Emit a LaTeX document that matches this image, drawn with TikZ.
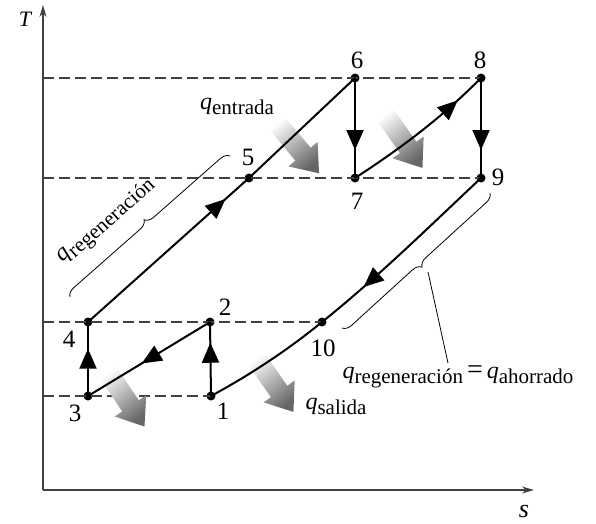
\documentclass[tikz,border=0pt]{standalone}
\usepackage{fontspec}
\setmainfont{Liberation Serif}
\usetikzlibrary{arrows.meta,decorations.markings,decorations.pathreplacing}
\newcommand\qlabel[1]{{\fontsize{24}{24}\selectfont\itshape q}\raisebox{-5pt}{\fontsize{21}{21}\selectfont #1}}
\begin{document}
\begin{tikzpicture}[x=1pt,y=-1pt,
  axis/.style={line width=1.3pt,draw=black!75,-{Stealth[length=12pt,width=7pt]}},
  guide/.style={line width=1.1pt, dash pattern=on 11pt off 5pt, draw=black!75},
  cyc/.style={line width=2pt},
  flowmark/.style={decoration={markings, mark=at position #1 with {\arrow{Triangle[length=20pt,width=17pt]}}}, postaction={decorate}},
  dot/.style={circle, fill=black, inner sep=0pt, minimum size=9pt},
  num/.style={font=\fontsize{25}{25}\selectfont, inner sep=0pt},
  lab/.style={inner sep=0pt},
  bracestyle/.style={decorate, decoration={brace, amplitude=9pt}, line width=0.8pt},
  fat/.style={top color=white, bottom color=black!60, shading angle=38},
  fatarrow/.pic={\shade[fat] (0,-10) -- (42,-10) -- (42,-19) -- (67,0) -- (42,19) -- (42,10) -- (0,10) -- cycle;}
]
\useasboundingbox (0,0) rectangle (596,523);
% axes
\coordinate (O) at (43,490);
\coordinate (Ttop) at (43,5);
\coordinate (Send) at (534,490);
\draw[axis] (O) -- (Ttop);
\draw[axis] (O) -- (Send);
\node[lab, font=\fontsize{22}{22}\selectfont\itshape] (Tl) at (25,19) {T};
\node[lab, font=\fontsize{26}{26}\selectfont\itshape] (sl) at (524,511) {s};
% state points
\node[dot] (p1) at (211,396) {};
\node[dot] (p2) at (210,322) {};
\node[dot] (p3) at (88,396) {};
\node[dot] (p4) at (88,322) {};
\node[dot] (p5) at (249,178) {};
\node[dot] (p6) at (355,78) {};
\node[dot] (p7) at (355,178) {};
\node[dot] (p8) at (481,78) {};
\node[dot] (p9) at (481,178) {};
\node[dot] (p10) at (322,322) {};
% axis ends of dashed lines
\coordinate (a6) at (43,78);
\coordinate (a7) at (43,178);
\coordinate (a4) at (43,322);
\coordinate (a3) at (43,396);
\draw[guide] (a6) -- (p6.center) -- (p8.center);
\draw[guide] (a7) -- (p5.center) -- (p7.center) -- (p9.center);
\draw[guide] (a4) -- (p4.center) -- (p2.center) -- (p10.center);
\draw[guide] (a3) -- (p3.center) -- (p1.center);
% shaded heat arrows
\pic[rotate=-50] at (276,122) {fatarrow};
\pic[rotate=-55] at (384,113) {fatarrow};
\pic[rotate=-56] at (107,371) {fatarrow};
\pic[rotate=-55] at (255,357) {fatarrow};
% cycle
\draw[cyc, flowmark=0.72] (p1.center) -- (p2.center);
\draw[cyc, flowmark=0.56] (p2.center) -- (p3.center);
\draw[cyc, flowmark=0.64] (p3.center) -- (p4.center);
\draw[cyc, flowmark=0.51] (p4.center) -- (p5.center) -- (p6.center);
\draw[cyc, flowmark=0.72] (p6.center) -- (p7.center);
\draw[cyc, flowmark=0.8] (p7.center) .. controls (420,136) and (455,104) .. (p8.center);
\draw[cyc, flowmark=0.72] (p8.center) -- (p9.center);
\draw[cyc, flowmark=0.46] (p9.center) .. controls (431,225) and (377,278) .. (p10.center)
   .. controls (284,353) and (246,377) .. (p1.center);
% number labels
\node[num] (l1) at (223,411) {1};
\node[num] (l2) at (225,307) {2};
\node[num] (l3) at (75,413) {3};
\node[num] (l4) at (69,339) {4};
\node[num] (l5) at (248,157) {5};
\node[num] (l6) at (357,60) {6};
\node[num] (l7) at (357,201) {7};
\node[num] (l8) at (480,60) {8};
\node[num] (l9) at (498,177) {9};
\node[num] (l10) at (323,348) {10};
% heat labels
\node[lab] (qin) at (237,106) {\qlabel{entrada}};
\node[lab] (qout) at (336,406) {\qlabel{salida}};
\node[lab, rotate=41.8] (qreg) at (107,222) {\qlabel{regeneración}};
\node[lab] (qeq) at (458,377) {\qlabel{regeneración}\hspace{4pt}{\fontsize{28}{28}\selectfont =}\hspace{4pt}\qlabel{ahorrado}};
% braces
\coordinate (b1s) at (70,297);
\coordinate (b1e) at (230,156);
\draw[bracestyle] (b1s) -- (b1e);
\coordinate (b2s) at (490,193);
\coordinate (b2e) at (342,328);
\draw[bracestyle] (b2s) -- (b2e);
\coordinate (btip) at (428,272);
\coordinate (bend) at (448,363);
\draw[line width=0.8pt] (btip) -- (bend);
\end{tikzpicture}
\end{document}
